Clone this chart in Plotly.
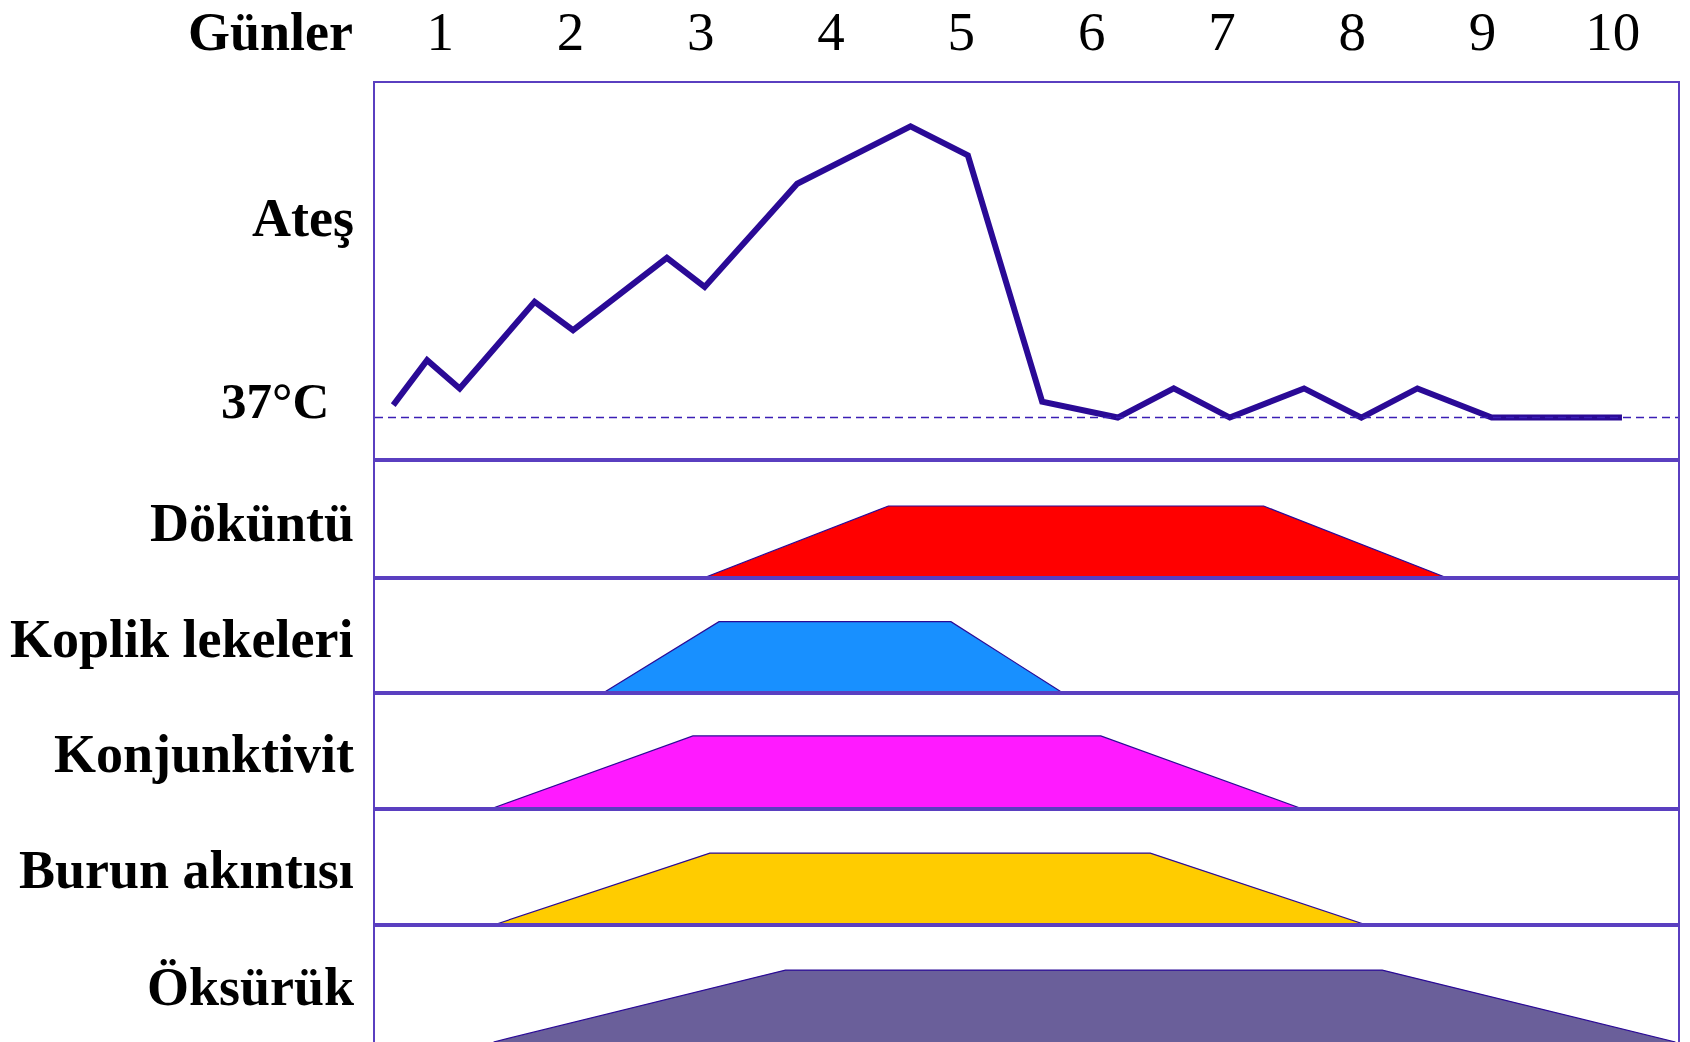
import plotly.graph_objects as go

# ---------------- data ----------------
days = [1, 2, 3, 4, 5, 6, 7, 8, 9, 10]
day_labels = ["1", "2", "3", "4", "5", "6", "7", "8", "9", "10"]

# fever curve (day position, temperature °C)
fever_day = [0.64, 0.90, 1.15, 1.725, 2.02, 2.74, 3.03, 3.74, 4.61, 5.05,
             5.62, 6.20, 6.63, 7.06, 7.63, 8.07, 8.50, 9.07, 10.07]
fever_temp = [37.15, 37.69, 37.35, 38.39, 38.05, 38.92, 38.57, 39.81, 40.50, 40.15,
              37.19, 37.0, 37.35, 37.0, 37.35, 37.0, 37.35, 37.0, 37.0]
baseline_temp = 37

# symptoms: onset, plateau start, plateau end, resolution (days), plateau level
symptoms = ["Döküntü", "Koplik lekeleri", "Konjunktivit", "Burun akıntısı", "Öksürük"]
onset = [3.02, 2.25, 1.385, 1.41, 1.41]
plateau_start = [4.44, 3.14, 2.94, 3.07, 3.65]
plateau_end = [7.32, 4.92, 6.07, 6.45, 8.23]
resolution = [8.73, 5.78, 7.62, 8.11, 10.48]
plateau_level = [0.61, 0.62, 0.63, 0.62, 0.615]
colors = ["#FF0000", "#1890FF", "#FF1AFF", "#FFCC00", "#6A5F9A"]

# ---------------- styling ----------------
W, H = 1690, 1042
ML, MR, MT, MB = 375, 12, 83, 0
frame = "#5A3FC0"
line_col = "#2A0A96"
serif = "Liberation Serif"

# panel boundaries (pixel rows of the reference) -> domains
panel_px = [83, 460, 578, 693, 809, 925, 1042]
plot_h = H - MT - MB
def frac(py):
    return (H - MB - py) / plot_h

fig = go.Figure()

# fever line
fig.add_trace(go.Scatter(x=fever_day, y=fever_temp, mode="lines",
                         line=dict(color=line_col, width=6),
                         xaxis="x", yaxis="y", hoverinfo="skip", showlegend=False))

# symptom trapezoids
for i, name in enumerate(symptoms):
    ax = str(i + 2)
    fig.add_trace(go.Scatter(
        x=[onset[i], plateau_start[i], plateau_end[i], resolution[i]],
        y=[0, plateau_level[i], plateau_level[i], 0],
        mode="lines", fill="toself", fillcolor=colors[i],
        line=dict(color=line_col, width=1.2),
        xaxis="x" + ax, yaxis="y" + ax, hoverinfo="skip", showlegend=False, name=name))

layout = dict(
    width=W, height=H,
    margin=dict(l=ML, r=MR, t=MT, b=MB, pad=0, autoexpand=False),
    paper_bgcolor="white", plot_bgcolor="white",
    showlegend=False,
)

axis_common = dict(showgrid=False, zeroline=False, showline=True, mirror=True,
                   linecolor=frame, linewidth=2, automargin=False)

layout["xaxis"] = dict(axis_common, domain=[0, 1], range=[0.5, 10.5], side="top",
                       tickmode="array", tickvals=days, ticktext=day_labels,
                       ticks="", ticklabelstandoff=9,
                       tickfont=dict(family=serif, size=55, color="black"),
                       anchor="y")
layout["yaxis"] = dict(axis_common, domain=[frac(panel_px[1]), frac(panel_px[0])],
                       range=[36.49, 41.02], showticklabels=False, ticks="", anchor="x")

for i in range(len(symptoms)):
    n = i + 2
    layout["xaxis%d" % n] = dict(axis_common, domain=[0, 1], range=[0.5, 10.5],
                                 matches="x", showticklabels=False, ticks="",
                                 anchor="y%d" % n)
    layout["yaxis%d" % n] = dict(axis_common,
                                 domain=[frac(panel_px[i + 2]), frac(panel_px[i + 1])],
                                 range=[0, 1], showticklabels=False, ticks="",
                                 anchor="x%d" % n)

fig.update_layout(**layout)

# 37°C dashed baseline
fig.add_shape(type="line", xref="x domain", yref="y", x0=0, x1=1,
              y0=baseline_temp, y1=baseline_temp,
              line=dict(color="#3B1FB5", width=1.6, dash="8px,5px"))

bold = dict(family=serif, size=54, color="black", weight="bold")

# header label
fig.add_annotation(text="Günler", xref="paper", yref="paper", x=0, y=frac(32),
                   xanchor="right", yanchor="middle", xshift=-20, showarrow=False,
                   font=bold)
# fever labels
fig.add_annotation(text="Ateş", xref="paper", yref="y", x=0, y=39.40,
                   xanchor="right", yanchor="middle", xshift=-19, showarrow=False,
                   font=bold)
fig.add_annotation(text="37°C", xref="paper", yref="y", x=0, y=37.2,
                   xanchor="right", yanchor="middle", xshift=-44, showarrow=False,
                   font=dict(family=serif, size=51, color="black", weight="bold"))
# symptom labels
for i, name in enumerate(symptoms):
    fig.add_annotation(text=name, xref="paper", yref="y%d" % (i + 2), x=0, y=0.47,
                       xanchor="right", yanchor="middle", xshift=-19, showarrow=False,
                       font=bold)

fig.write_html("out.html",
               config={"displayModeBar": False, "staticPlot": True},
               post_script="document.body.style.margin='0';document.body.style.padding='0';")
